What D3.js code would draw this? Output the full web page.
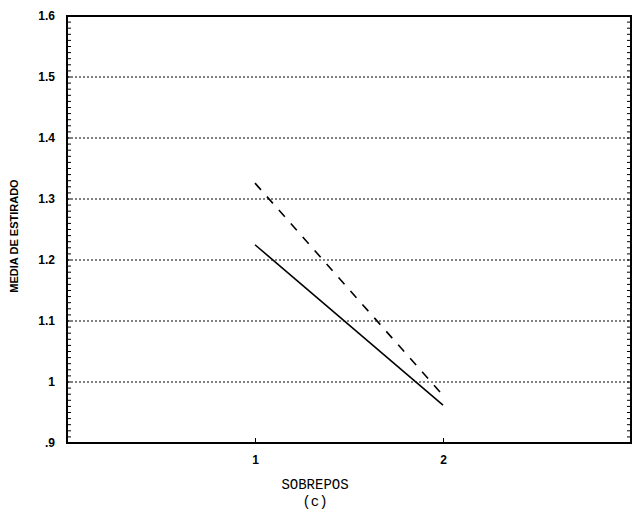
<!DOCTYPE html>
<html>
<head>
<meta charset="utf-8">
<script src="https://cdn.jsdelivr.net/npm/d3@7"></script>
<style>
  body { margin: 0; background: #fff; }
  .tick text { font-family: "Liberation Sans", Arial, sans-serif; font-weight: bold; font-size: 12px; }
</style>
</head>
<body>
<svg id="chart"></svg>
<script>
// data
const categories = [1, 2];
const solidValues = [1.225, 0.962];
const dashedValues = [1.326, 0.978];
const yTicks = [0.9, 1.0, 1.1, 1.2, 1.3, 1.4, 1.5, 1.6];
const yTickLabels = [".9", "1", "1.1", "1.2", "1.3", "1.4", "1.5", "1.6"];
const gridValues = [1.0, 1.1, 1.2, 1.3, 1.4, 1.5];

const width = 638;
const height = 520;
const margin = { top: 16, right: 7, bottom: 77, left: 67 };
const innerWidth = width - margin.left - margin.right;
const innerHeight = height - margin.top - margin.bottom;

const svg = d3.select("#chart")
    .attr("width", width)
    .attr("height", height);

const g = svg.append("g")
    .attr("transform", `translate(${margin.left}, ${margin.top})`);

const x = d3.scaleLinear().domain([0, 3]).range([0, innerWidth]);
const y = d3.scaleLinear().domain([0.9, 1.6]).range([innerHeight, 0]);

// dotted gridlines
g.selectAll(".grid")
    .data(gridValues)
    .enter()
    .append("line")
    .attr("x1", 0)
    .attr("x2", innerWidth)
    .attr("y1", d => y(d))
    .attr("y2", d => y(d))
    .attr("stroke", "#000")
    .attr("stroke-width", 1)
    .attr("stroke-dasharray", "2,2");

// minor ticks on left and right
const minor = d3.range(0.9, 1.6001, 0.01);
g.selectAll(".minorL")
    .data(minor)
    .enter()
    .append("line")
    .attr("x1", 0).attr("x2", 4)
    .attr("y1", d => y(d)).attr("y2", d => y(d))
    .attr("stroke", "#000");
g.selectAll(".minorR")
    .data(minor)
    .enter()
    .append("line")
    .attr("x1", innerWidth - 4).attr("x2", innerWidth)
    .attr("y1", d => y(d)).attr("y2", d => y(d))
    .attr("stroke", "#000");

// frame
g.append("rect")
    .attr("width", innerWidth)
    .attr("height", innerHeight)
    .attr("fill", "none")
    .attr("stroke", "#000")
    .attr("stroke-width", 2);

// axes
const yAxis = d3.axisLeft(y)
    .tickValues(yTicks)
    .tickFormat((d, i) => yTickLabels[i])
    .tickSize(0)
    .tickPadding(12);
g.append("g")
    .call(yAxis)
    .call(a => a.select(".domain").remove());

const xAxis = d3.axisBottom(x)
    .tickValues(categories)
    .tickFormat(d3.format("d"))
    .tickSize(-5)
    .tickPadding(12);
g.append("g")
    .attr("transform", `translate(0, ${innerHeight})`)
    .call(xAxis)
    .call(a => a.select(".domain").remove());

// lines
const line = d3.line()
    .x((d, i) => x(categories[i]))
    .y(d => y(d));

g.append("path")
    .datum(solidValues)
    .attr("d", line)
    .attr("fill", "none")
    .attr("stroke", "#000")
    .attr("stroke-width", 1.6);

g.append("path")
    .datum(dashedValues)
    .attr("d", line)
    .attr("fill", "none")
    .attr("stroke", "#000")
    .attr("stroke-width", 1.6)
    .attr("stroke-dasharray", "9,9");

// axis titles
svg.append("text")
    .attr("x", 315)
    .attr("y", 489)
    .attr("text-anchor", "middle")
    .attr("font-family", "Liberation Mono, monospace")
    .attr("font-size", 14)
    .text("SOBREPOS");
svg.append("text")
    .attr("x", 315)
    .attr("y", 506)
    .attr("text-anchor", "middle")
    .attr("font-family", "Liberation Mono, monospace")
    .attr("font-size", 14)
    .text("(c)");

svg.append("text")
    .attr("transform", "translate(18, 236) rotate(-90)")
    .attr("text-anchor", "middle")
    .attr("font-family", "Liberation Sans, Arial, sans-serif")
    .attr("font-weight", "bold")
    .attr("font-size", 11)
    .text("MEDIA DE ESTIRADO");
</script>
</body>
</html>
